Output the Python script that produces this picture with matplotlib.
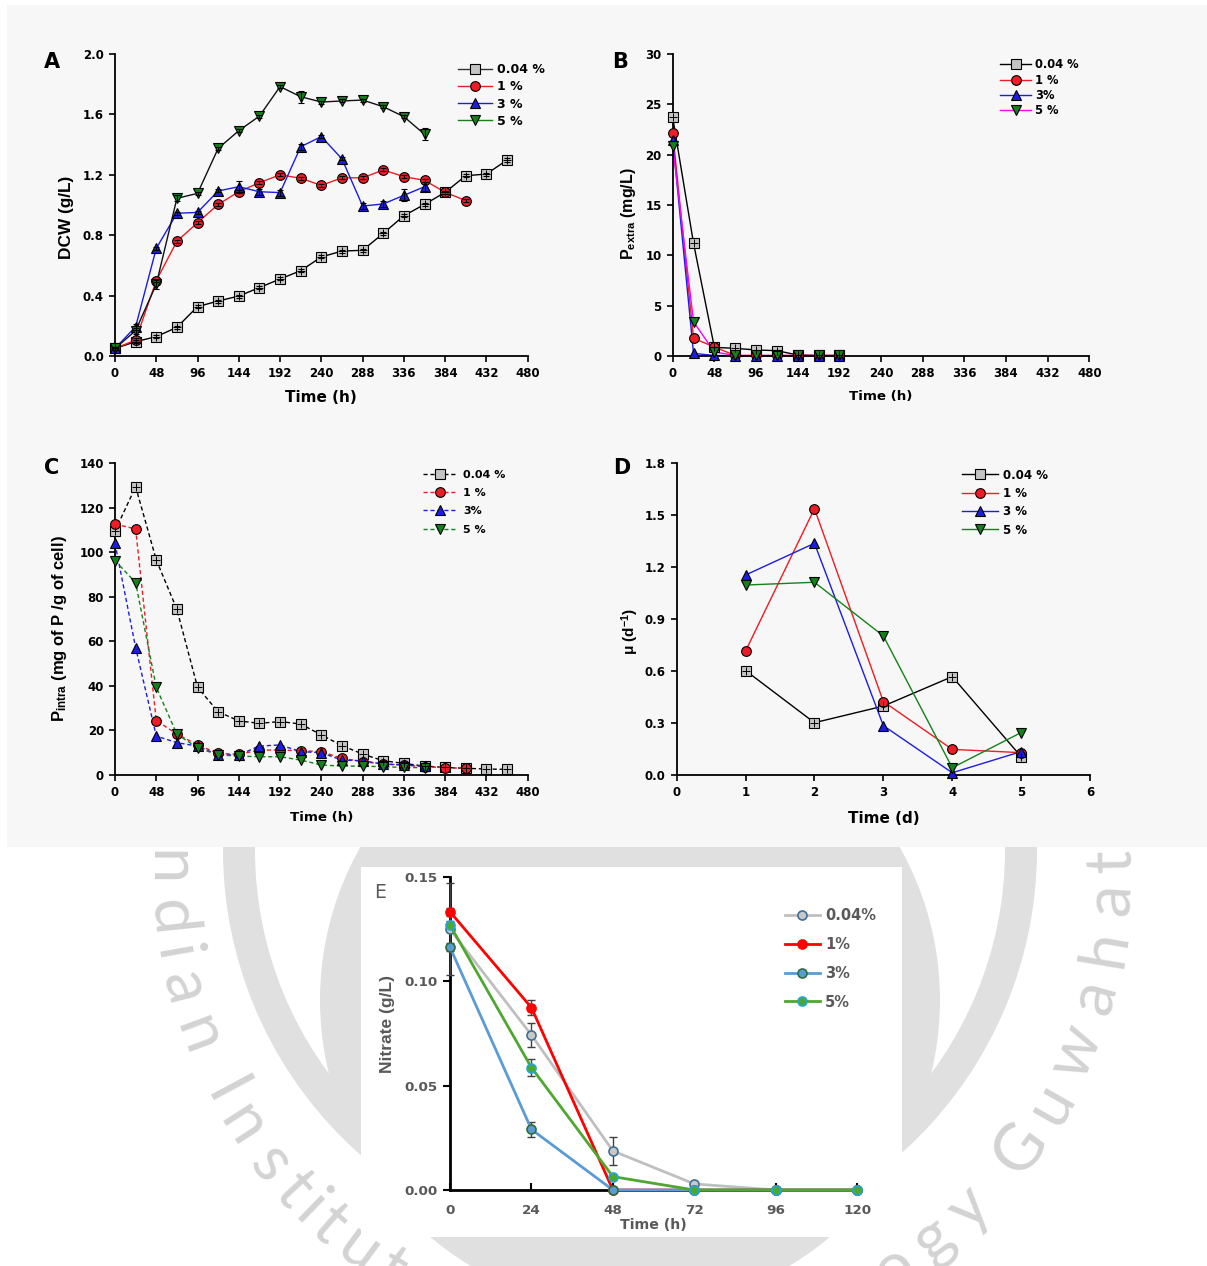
import numpy as np
import matplotlib
matplotlib.use("Agg")
import matplotlib.pyplot as plt
from matplotlib.patches import Rectangle, Wedge, Circle
from matplotlib.lines import Line2D

plt.rcParams['font.family'] = ['DejaVu Sans']
plt.rcParams['mathtext.fontset'] = 'custom'
plt.rcParams['mathtext.rm'] = 'Liberation Sans'
plt.rcParams['mathtext.bf'] = 'Liberation Sans:bold'
plt.rcParams['mathtext.it'] = 'Liberation Sans:italic'

W, H = 1207, 1266
VFONT = ['Liberation Sans', 'DejaVu Sans']   # rotated (vertical) labels

# ---------------- data ----------------
series = ['0.04 %', '1 %', '3 %', '5 %']
series_bc = ['0.04 %', '1 %', '3%', '5 %']

# A: dry cell weight (g/L)
t_004 = [0, 24, 48, 72, 96, 120, 144, 168, 192, 216, 240, 264, 288, 312, 336, 360, 384, 408, 432, 456]
t_1 = t_004[:18]
t_3 = t_004[:16]
t_5 = t_004[:16]
dcw_004 = [0.05, 0.095, 0.128, 0.19, 0.327, 0.364, 0.397, 0.453, 0.51, 0.565, 0.656, 0.695, 0.70,
           0.812, 0.929, 1.004, 1.084, 1.194, 1.205, 1.298]
dcw_1 = [0.05, 0.106, 0.499, 0.76, 0.883, 1.004, 1.088, 1.148, 1.20, 1.177, 1.13, 1.18, 1.18,
         1.232, 1.188, 1.163, 1.084, 1.029]
dcw_3 = [0.05, 0.194, 0.713, 0.945, 0.951, 1.093, 1.121, 1.088, 1.082, 1.386, 1.453, 1.305, 0.993,
         1.007, 1.064, 1.121]
dcw_5 = [0.05, 0.168, 0.475, 1.044, 1.077, 1.375, 1.492, 1.589, 1.784, 1.717, 1.682, 1.689, 1.695,
         1.651, 1.585, 1.468]
dcw_err_004 = [0.01, 0.01, 0.01, 0.01, 0.01, 0.01, 0.01, 0.01, 0.01, 0.01, 0.01, 0.01, 0.01, 0.01,
               0.01, 0.01, 0.01, 0.01, 0.01, 0.01]
dcw_err_1 = [0.01, 0.01, 0.01, 0.01, 0.01, 0.01, 0.01, 0.01, 0.01, 0.01, 0.01, 0.01, 0.01, 0.01,
             0.01, 0.01, 0.01, 0.01]
dcw_err_3 = [0.01, 0.02, 0.01, 0.01, 0.01, 0.01, 0.04, 0.02, 0.02, 0.02, 0.01, 0.01, 0.02, 0.02,
             0.04, 0.03]
dcw_err_5 = [0.01, 0.02, 0.03, 0.02, 0.01, 0.01, 0.01, 0.01, 0.01, 0.04, 0.01, 0.01, 0.01, 0.01,
             0.01, 0.04]

# B: extracellular phosphate (mg/L)
t_b = [0, 24, 48, 72, 96, 120, 144, 168, 192]
pext_004 = [23.7, 11.2, 0.86, 0.76, 0.6, 0.53, 0.1, 0.05, 0.05]
pext_1 = [22.2, 1.75, 0.9, 0.05, 0.05, 0.05, 0.05, 0.05, 0.05]
pext_3 = [21.5, 0.26, 0.05, 0.02, 0.02, 0.02, 0.02, 0.02, 0.02]
pext_5 = [20.9, 3.4, 0.4, 0.05, 0.05, 0.05, 0.05, 0.05, 0.05]

# C: intracellular phosphate (mg P / g cell)
pint_004 = [109.6, 129.5, 96.6, 74.4, 39.4, 28.4, 24.3, 23.2, 24.0, 22.9, 18.0, 13.2, 9.4, 6.4,
            5.2, 4.0, 3.4, 3.0, 2.7, 2.5]
pint_1 = [112.7, 110.5, 24.4, 18.4, 13.5, 9.7, 9.3, 11.2, 11.2, 10.9, 10.5, 7.5, 6.0, 4.9, 4.5,
          3.7, 3.3, 3.0]
pint_3 = [104.0, 57.2, 17.5, 14.5, 13.0, 9.0, 9.0, 13.0, 13.5, 10.5, 10.0, 6.7, 6.4, 4.9, 4.5, 4.0]
pint_5 = [96.3, 86.4, 39.4, 18.3, 12.3, 9.0, 8.5, 8.2, 8.2, 6.7, 4.5, 4.0, 4.0, 3.7, 3.4, 3.3]

# D: specific growth rate (1/d)
t_d = [1, 2, 3, 4, 5]
mu_004 = [0.603, 0.302, 0.398, 0.568, 0.106]
mu_1 = [0.716, 1.538, 0.424, 0.148, 0.129]
mu_3 = [1.155, 1.338, 0.285, 0.013, 0.135]
mu_5 = [1.097, 1.113, 0.803, 0.042, 0.245]

# E: nitrate (g/L)
series_e = ['0.04%', '1%', '3%', '5%']
t_e = [0, 24, 48, 72, 96, 120]
no3_004 = [0.1248, 0.0742, 0.0187, 0.0029, 0.0, 0.0]
no3_1 = [0.1332, 0.0873, 0.0, 0.0, 0.0, 0.0]
no3_3 = [0.1162, 0.0290, 0.0, 0.0, 0.0, 0.0]
no3_5 = [0.1268, 0.0586, 0.0064, 0.0, 0.0, 0.0]
no3_err_004 = [0.022, 0.0056, 0.0066, 0.0, 0.0, 0.0]
no3_err_1 = [0.002, 0.0036, 0.0, 0.0, 0.0, 0.0]
no3_err_3 = [0.002, 0.0036, 0.0, 0.0, 0.0, 0.0]
no3_err_5 = [0.002, 0.0039, 0.0, 0.0, 0.0, 0.0]

watermark = 'Indian Institute of Technology Guwahati'

# ---------------- figure / background ----------------
fig = plt.figure(figsize=(W / 100, H / 100), dpi=100)
bg = fig.add_axes([0, 0, 1, 1], zorder=-10)
bg.set_xlim(0, W)
bg.set_ylim(H, 0)
bg.axis('off')

wm_col = '#e0e0e0'
bg.add_patch(Wedge((630, 850), 407, 0, 360, width=32, color=wm_col, lw=0, zorder=1))
bg.add_patch(Circle((630, 1000), 310, color=wm_col, lw=0, zorder=1))

narrow = {'i': 0.45, 'l': 0.45, 'I': 0.5, 't': 0.55, 'f': 0.55, ' ': 0.55,
          's': 0.9, 'c': 0.9, 'y': 0.9, 'T': 0.95, 'G': 1.2, 'w': 1.35}
widths = [narrow.get(ch, 1.0) for ch in watermark]
pos = np.cumsum(widths) - np.array(widths) / 2
for ch, c in zip(watermark, pos):
    phi = np.radians(173.8 + 6.0 * c)
    x = 640 + 472 * np.cos(phi)
    y = 870 - 472 * np.sin(phi)
    if y > H + 15 or ch == ' ':
        continue
    bg.text(x, y, ch, fontsize=47, color='#d3d3d3', family=['Lato', 'DejaVu Sans'],
            weight='normal', ha='center', va='center', rotation=np.degrees(phi) + 90,
            rotation_mode='anchor', zorder=2)

# panel box (A-D) and white box for E, drawn over the watermark
bg.add_patch(Rectangle((7, 5), W - 7, 842, color='#f7f7f7', lw=0, zorder=5))
bg.add_patch(Rectangle((361, 867), 541, 370, color='white', lw=0, zorder=5))


def axes_px(left, right, top, bottom):
    return fig.add_axes([left / W, 1 - bottom / H, (right - left) / W, (bottom - top) / H])


def style(ax, xlim, ylim, xticks, yticks, yfmt):
    ax.set_facecolor('none')
    for s in ['top', 'right']:
        ax.spines[s].set_visible(False)
    for s in ['left', 'bottom']:
        ax.spines[s].set_linewidth(1.3)
    ax.set_xlim(*xlim)
    ax.set_ylim(*ylim)
    ax.set_xticks(xticks)
    ax.set_yticks(yticks)
    ax.set_yticklabels([yfmt.format(v) for v in yticks])
    ax.tick_params(direction='out', length=4, width=1.2, labelsize=8.5, pad=4)
    for lab in ax.get_xticklabels() + ax.get_yticklabels():
        lab.set_fontweight('bold')


def draw(ax, x, y, err, lcol, face, mk, ls='-', lw=1.0, plus=False):
    ax.plot(x, y, color=lcol, ls=ls, lw=lw, zorder=2, clip_on=False)
    ax.plot(x, y, ls='none', marker=mk, ms=7, mfc=face, mec='black', mew=0.8, zorder=3,
            clip_on=False)
    if err is not None:
        ax.errorbar(x, y, yerr=err, fmt='none', ecolor='black', elinewidth=0.8, capsize=2.5,
                    capthick=0.8, zorder=4, clip_on=False)
    if plus:
        ax.plot(x, y, ls='none', marker='+', ms=6, mec='black', mew=0.7, zorder=5, clip_on=False)


def handles(colors, ls='-'):
    marks = [('s', GRAY), ('o', RED), ('^', BLUE), ('v', GREEN)]
    return [Line2D([], [], color=c, lw=1, ls=ls, marker=m, ms=7, mfc=f, mec='black', mew=0.8)
            for c, (m, f) in zip(colors, marks)]


def legend(ax, hs, labels, x, y, fs, hl, tp, ls):
    return ax.legend(handles=hs, labels=labels, loc='upper left', bbox_to_anchor=(x, y),
                     frameon=False, borderpad=0, borderaxespad=0, handlelength=hl,
                     handletextpad=tp, labelspacing=ls, prop={'size': fs, 'weight': 'bold'})


def labels(ax, xl, yl, xfs, yfs, xpos, ypos):
    ax.set_xlabel(xl, fontsize=xfs, weight='bold', va='center')
    ax.set_ylabel(yl, fontsize=yfs, weight='bold', va='center', family=VFONT)
    ax.xaxis.set_label_coords(0.5, xpos)
    ax.yaxis.set_label_coords(*ypos)


GRAY, RED, BLUE, GREEN = '#c4c4c4', '#ee1c24', '#1c1ce6', '#15811a'
xt_h = [0, 48, 96, 144, 192, 240, 288, 336, 384, 432, 480]

# ---------------- A ----------------
axA = axes_px(115, 527.7, 54, 356)
style(axA, (0, 480), (0, 2.0), xt_h, [0, 0.4, 0.8, 1.2, 1.6, 2.0], '{:.1f}')
draw(axA, t_004, dcw_004, dcw_err_004, 'black', GRAY, 's', plus=True)
draw(axA, t_1, dcw_1, dcw_err_1, RED, RED, 'o')
draw(axA, t_3, dcw_3, dcw_err_3, BLUE, BLUE, '^')
draw(axA, t_5, dcw_5, dcw_err_5, '#111111', GREEN, 'v')
labels(axA, 'Time (h)', 'DCW (g/L)', 11, 12.4, -0.139, (-0.118, 0.46))
legend(axA, handles(['#333333', RED, BLUE, GREEN]), series, 0.831, 0.969, 9, 2.7, 0.4, 0.33)
fig.text(52 / W, 1 - 62 / H, 'A', fontsize=15, weight='bold', ha='center', va='center')

# ---------------- B ----------------
axB = axes_px(672.7, 1089.3, 54, 356)
style(axB, (0, 480), (0, 30), xt_h, [0, 5, 10, 15, 20, 25, 30], '{:d}')
draw(axB, t_b, pext_004, None, 'black', GRAY, 's', plus=True)
draw(axB, t_b, pext_1, None, RED, RED, 'o')
draw(axB, t_b, pext_3, None, BLUE, BLUE, '^')
draw(axB, t_b, pext_5, None, '#ff00ff', GREEN, 'v')
labels(axB, 'Time (h)', r'P$_{\mathbf{extra}}$ (mg/L)', 9.6, 11.5, -0.135, (-0.105, 0.47))
legend(axB, handles(['black', RED, BLUE, '#ff00ff']), series_bc, 0.786, 0.986, 8.3, 2.7, 0.3, 0.21)
fig.text(620 / W, 1 - 62 / H, 'B', fontsize=15, weight='bold', ha='center', va='center')

# ---------------- C ----------------
axC = axes_px(115, 527.7, 463.3, 775)
style(axC, (0, 480), (0, 140), xt_h, [0, 20, 40, 60, 80, 100, 120, 140], '{:d}')
dash = (0, (3, 2))
draw(axC, t_004, pint_004, None, 'black', GRAY, 's', ls=dash, plus=True)
draw(axC, t_1, pint_1, None, RED, RED, 'o', ls=dash)
draw(axC, t_3, pint_3, None, BLUE, BLUE, '^', ls=dash)
draw(axC, t_5, pint_5, None, GREEN, GREEN, 'v', ls=dash)
labels(axC, 'Time (h)', r'P$_{\mathbf{intra}}$ (mg of P /g of cell)', 9.6, 12, -0.135,
       (-0.135, 0.47))
legend(axC, handles(['black', RED, BLUE, GREEN], ls=dash), series_bc, 0.746, 0.980, 8, 3.05,
       0.55, 0.75)
fig.text(52 / W, 1 - 468 / H, 'C', fontsize=15, weight='bold', ha='center', va='center')

# ---------------- D ----------------
axD = axes_px(676.7, 1090, 463.3, 775)
style(axD, (0, 6), (0, 1.8), [0, 1, 2, 3, 4, 5, 6], [0, 0.3, 0.6, 0.9, 1.2, 1.5, 1.8], '{:.1f}')
draw(axD, t_d, mu_004, None, 'black', GRAY, 's', plus=True)
draw(axD, t_d, mu_1, None, RED, RED, 'o')
draw(axD, t_d, mu_3, None, BLUE, BLUE, '^')
draw(axD, t_d, mu_5, None, GREEN, GREEN, 'v')
labels(axD, 'Time (d)', r'μ (d$^{\mathbf{-1}}$)', 11, 11, -0.138, (-0.113, 0.46))
legend(axD, handles(['black', RED, BLUE, GREEN]), series, 0.69, 0.983, 8.5, 3.05, 0.4, 0.45)
fig.text(622 / W, 1 - 468 / H, 'D', fontsize=15, weight='bold', ha='center', va='center')

# ---------------- E ----------------
TXT = '#595959'
axE = axes_px(450, 857.3, 876.7, 1190)
axE.set_facecolor('none')
for s in ['top', 'right']:
    axE.spines[s].set_visible(False)
for s in ['left', 'bottom']:
    axE.spines[s].set_linewidth(2)
axE.set_xlim(0, 120)
axE.set_ylim(0, 0.15)
axE.set_xticks(t_e)
axE.set_yticks([0, 0.05, 0.10, 0.15])
axE.set_yticklabels(['0.00', '0.05', '0.10', '0.15'])
axE.tick_params(axis='x', direction='in', length=5, width=1.5, labelsize=9.7, labelcolor=TXT, pad=10)
axE.tick_params(axis='y', direction='out', length=5, width=1.5, labelsize=9.7, labelcolor=TXT, pad=4)
for lab in axE.get_xticklabels() + axE.get_yticklabels():
    lab.set_fontweight('bold')

e_styles = [
    (no3_004, no3_err_004, '#bfbfbf', '#c8c8c8', '#3f6f96'),
    (no3_1, no3_err_1, '#ff0000', '#ff0000', '#ff0000'),
    (no3_3, no3_err_3, '#5b9bd5', '#5b9bd5', '#2e6f3a'),
    (no3_5, no3_err_5, '#4ea72e', '#4ea72e', '#22a7d8'),
]
for y, err, lc, fc, ec in e_styles:
    axE.errorbar(t_e, y, yerr=err, fmt='none', ecolor='#404040', elinewidth=1, capsize=3,
                 capthick=1, zorder=3, clip_on=False)
    axE.plot(t_e, y, color=lc, lw=2, marker='o', ms=6.5, mfc=fc, mec=ec, mew=1.2, zorder=4,
             clip_on=False)
axE.set_xlabel('Time (h)', fontsize=10.2, weight='bold', color=TXT, va='center')
axE.set_ylabel('Nitrate (g/L)', fontsize=12.5, weight='bold', color=TXT, va='center', family=VFONT)
axE.xaxis.set_label_coords(0.5, -0.112)
axE.yaxis.set_label_coords(-0.153, 0.53)
hE = [Line2D([], [], color=lc, lw=2, marker='o', ms=6.5, mfc=fc, mec=ec, mew=1.2)
      for _, _, lc, fc, ec in e_styles]
legE = axE.legend(handles=hE, labels=series_e, loc='upper left', bbox_to_anchor=(0.822, 0.90),
                  frameon=False, borderpad=0, borderaxespad=0, handlelength=2.4,
                  handletextpad=0.35, labelspacing=0.95, prop={'size': 10.5, 'weight': 'bold'})
for t in legE.get_texts():
    t.set_color(TXT)
fig.text(380 / W, 1 - 893 / H, 'E', fontsize=13.5, color=TXT, ha='center', va='center')

fig.savefig('out.png', dpi=100)
